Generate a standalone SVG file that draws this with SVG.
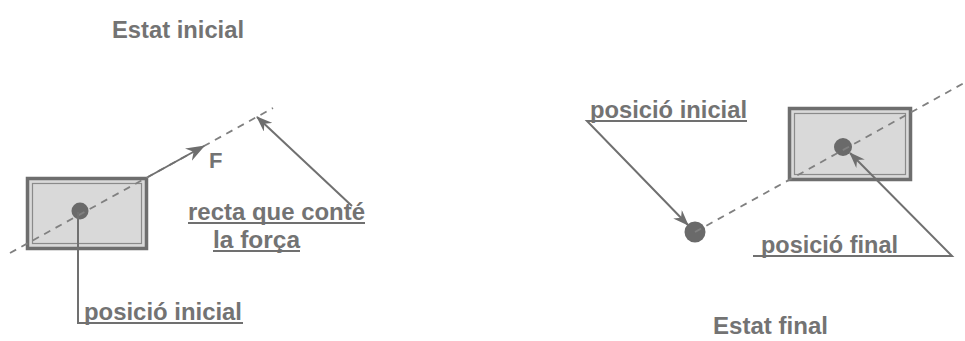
<svg xmlns="http://www.w3.org/2000/svg" width="965" height="341" viewBox="0 0 965 341">
  <style>
    .t { font-family: "Liberation Sans", Arial, sans-serif; font-weight: bold; fill: #737373; }
    .ln { stroke: #707070; stroke-width: 2; fill: none; }
    .dash { stroke: #808080; stroke-width: 1.8; stroke-dasharray: 7 6; fill: none; }
    .box { fill: #d9d9d9; stroke: #6e6e6e; stroke-width: 3.5; }
    .inner { fill: none; stroke: #8a8a8a; stroke-width: 1.2; }
    .dot { fill: #6a6a6a; }
  </style>
  <defs>
    <marker id="arr" viewBox="0 0 16 12" refX="15" refY="6" markerWidth="16" markerHeight="12" markerUnits="userSpaceOnUse" orient="auto">
      <path d="M0,0 L16,6 L0,12 L5,6 z" fill="#6e6e6e"/>
    </marker>
    <marker id="arrBig" viewBox="0 0 16 12" refX="15" refY="6" markerWidth="19" markerHeight="15" markerUnits="userSpaceOnUse" orient="auto">
      <path d="M0,0 L16,6 L0,12 L5,6 z" fill="#6e6e6e"/>
    </marker>
  </defs>

  <rect width="965" height="341" fill="#ffffff"/>

  <g id="title-initial">
    <text class="t" x="112" y="38" font-size="23" textLength="132" lengthAdjust="spacingAndGlyphs">Estat inicial</text>
  </g>
  <g id="title-final">
    <text class="t" x="713" y="334" font-size="23" textLength="115" lengthAdjust="spacingAndGlyphs">Estat final</text>
  </g>

  <g id="box-initial">
    <rect class="box" x="27.5" y="178.5" width="119" height="70"/>
    <rect class="inner" x="32.5" y="183.5" width="109" height="60"/>
    <circle class="dot" cx="80" cy="211" r="8.5"/>
  </g>

  <g id="box-final">
    <rect class="box" x="789.5" y="108.5" width="121" height="71"/>
    <rect class="inner" x="794.5" y="113.5" width="111" height="61"/>
    <circle class="dot" cx="843" cy="147" r="9"/>
  </g>

  <g id="dot-initial-position">
    <circle class="dot" cx="695" cy="232" r="10.5"/>
  </g>

  <g id="connectors">
    <line class="dash" x1="10" y1="253" x2="273" y2="108"/>
    <line class="dash" x1="695" y1="232" x2="964" y2="83"/>
    <line class="ln" x1="148" y1="177" x2="204" y2="146" stroke-width="3.4" marker-end="url(#arrBig)"/>
    <line class="ln" x1="352" y1="206" x2="257" y2="117" marker-end="url(#arr)"/>
    <polyline class="ln" points="243,323 78,323 78,212"/>
    <polyline class="ln" points="747,121 587,121 688,225" marker-end="url(#arr)"/>
    <polyline class="ln" points="753,256 952,256 850,153" marker-end="url(#arr)"/>
    <line class="ln" x1="188" y1="223" x2="365" y2="223"/>
    <line class="ln" x1="213" y1="251" x2="300" y2="251"/>
  </g>

  <g id="label-F">
    <text class="t" x="209" y="168" font-size="22">F</text>
  </g>
  <g id="label-recta">
    <text class="t" x="188" y="220" font-size="23" textLength="177" lengthAdjust="spacingAndGlyphs">recta que conté</text>
    <text class="t" x="213" y="248" font-size="23" textLength="87" lengthAdjust="spacingAndGlyphs">la força</text>
  </g>
  <g id="label-posicio-inicial-left">
    <text class="t" x="84" y="320" font-size="23" textLength="158" lengthAdjust="spacingAndGlyphs">posició inicial</text>
  </g>
  <g id="label-posicio-inicial-right">
    <text class="t" x="590" y="118" font-size="23" textLength="157" lengthAdjust="spacingAndGlyphs">posició inicial</text>
  </g>
  <g id="label-posicio-final">
    <text class="t" x="761" y="253" font-size="23" textLength="137" lengthAdjust="spacingAndGlyphs">posició final</text>
  </g>
</svg>
